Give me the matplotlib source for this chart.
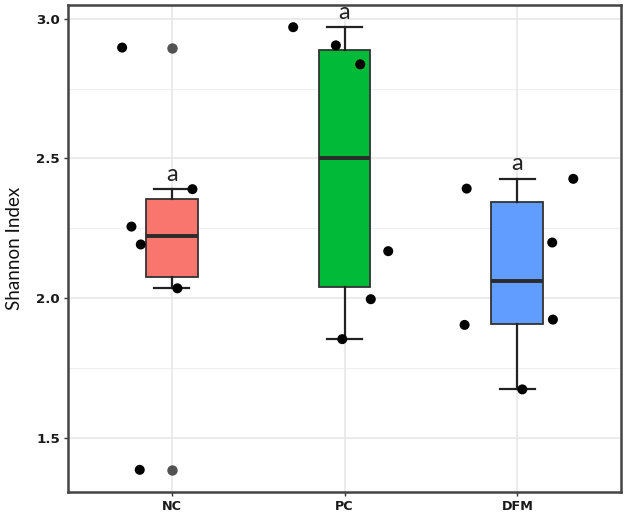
import matplotlib
matplotlib.use("Agg")
import matplotlib.pyplot as plt
import numpy as np

plt.rcParams['font.family'] = ['Lato', 'DejaVu Sans']

categories = ["NC", "PC", "DFM"]
nc_values = [2.897, 2.256, 2.192, 2.035, 2.390, 1.385]
pc_values = [2.970, 2.905, 2.837, 2.168, 1.996, 1.853]
dfm_values = [2.392, 2.427, 2.199, 1.923, 1.904, 1.673]
nc_jitter = [-0.287, -0.233, -0.179, 0.033, 0.120, -0.185]
pc_jitter = [-0.297, -0.050, 0.091, 0.253, 0.152, -0.013]
dfm_jitter = [-0.293, 0.324, 0.202, 0.206, -0.305, 0.029]
letters = ["a", "a", "a"]
colors = ["#F8766D", "#00BA38", "#619CFF"]
yticks = [1.5, 2.0, 2.5, 3.0]

groups = [nc_values, pc_values, dfm_values]
jitters = [nc_jitter, pc_jitter, dfm_jitter]

fig = plt.figure(figsize=(6.3, 5.14), dpi=100)
ax = fig.add_axes([0.108, 0.043, 0.8777, 0.947])

positions = np.arange(1, len(categories) + 1)
ax.set_xlim(0.4, 3.6)
ax.set_ylim(1.306, 3.049)

# grid
for y in [1.75, 2.25, 2.75]:
    ax.axhline(y, color="#EFEFEF", lw=0.8, zorder=0)
for y in yticks:
    ax.axhline(y, color="#E8E8E8", lw=1.2, zorder=0)
for x in positions:
    ax.axvline(x, color="#E8E8E8", lw=1.2, zorder=0)

bp = ax.boxplot(groups, positions=positions, widths=0.3, whis=1.5,
                patch_artist=True, manage_ticks=False,
                medianprops=dict(color="#2b2b2b", lw=2.8),
                boxprops=dict(edgecolor="#333333", lw=1.3),
                whiskerprops=dict(color="#222222", lw=1.6),
                capprops=dict(color="#222222", lw=1.6),
                capwidths=0.2,
                flierprops=dict(marker="o", markerfacecolor="#404040",
                                markeredgecolor="none", markersize=7.5, alpha=0.9),
                zorder=2)
for patch, c in zip(bp["boxes"], colors):
    patch.set_facecolor(c)

for pos, vals, jit in zip(positions, groups, jitters):
    ax.scatter(pos + np.array(jit), vals, s=52, color="black", zorder=4,
               edgecolors="none")

for pos, vals, lab in zip(positions, groups, letters):
    q1, q3 = np.percentile(vals, [25, 75])
    iqr = q3 - q1
    top = max(v for v in vals if v <= q3 + 1.5 * iqr)
    ax.text(pos, top + 0.016, lab, ha="center", va="bottom", fontsize=17,
            color="#222222")

ax.set_xticks(positions)
ax.set_xticklabels(categories, fontsize=9.2, fontweight="bold",
                   family="DejaVu Sans", color="#1a1a1a")
ax.set_yticks(yticks)
ax.set_yticklabels([f"{v:.1f}" for v in yticks], fontsize=9.6, fontweight="bold",
                   family="DejaVu Sans", color="#1a1a1a")
ax.tick_params(axis="both", length=3, width=1, color="#333333", pad=3)
ax.set_ylabel("Shannon Index", fontsize=13.5, labelpad=9, color="#111111")

for s in ax.spines.values():
    s.set_color("#444444")
    s.set_linewidth(1.8)

fig.savefig("out.png", dpi=100)
